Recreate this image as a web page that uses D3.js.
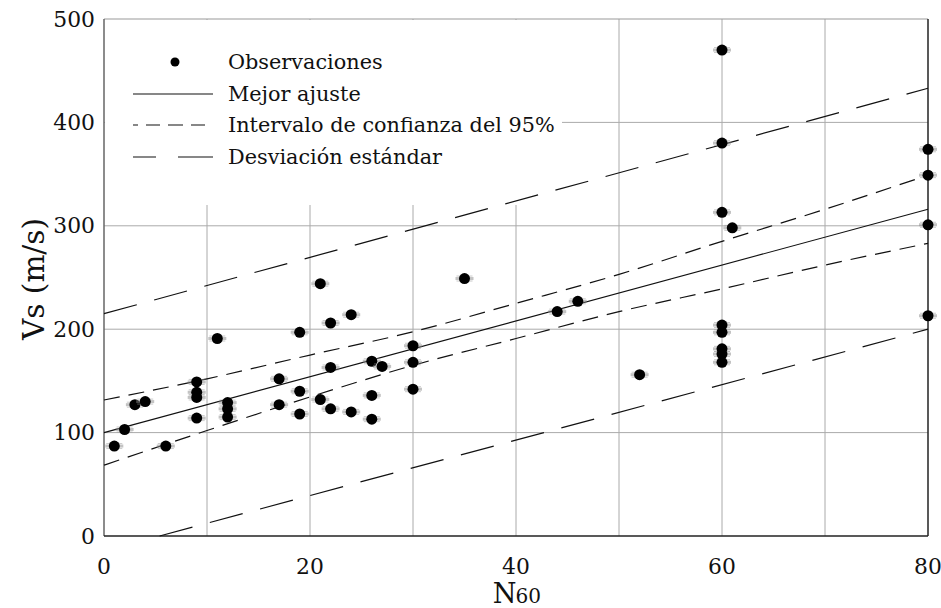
<!DOCTYPE html>
<html><head><meta charset="utf-8">
<script src="https://cdn.jsdelivr.net/npm/d3@7"></script>
<style>body{margin:0;background:#fff}svg{display:block}text{font-family:"DejaVu Serif","Liberation Serif",serif;fill:#111}</style>
</head><body><svg id="c" width="941" height="608"></svg>
<script>
// ---- data ----
const n60 = [1,2,3,4,6, 9,9,9,9, 11, 12,12,12, 17,17, 19,19,19, 21,21, 22,22,22, 24,24, 26,26,26, 27, 30,30,30, 35, 44, 46, 52, 60,60,60,60,60,60,60,60, 61, 80,80,80,80];
const vs  = [87,103,127,130,87, 149,139,134,114, 191, 129,123,115, 152,127, 197,140,118, 244,132, 206,163,123, 214,120, 169,136,113, 164, 184,168,142, 249, 217, 227, 156, 470,380,313,204,197,181,176,168, 298, 374,349,301,213];
const fitX = [0, 80];
const fitY = [100, 316];
const ciX = [0,10,20,30,40,50,60,70,80];
const ciUpper = [131.5,152,175,197.5,225,253,285,316,349];
const ciLower = [68.5,102,134.5,165,191,217,239,262,283];
const sdUpperX = [0, 80], sdUpperY = [215, 433];
const sdLowerX = [5.4, 80], sdLowerY = [0, 200];
const xTicks = [0,20,40,60,80];
const yTicks = [0,100,200,300,400,500];
const xGrid = [10,20,30,40,50,60,70];
const yGrid = [100,200,300,400];
const legendLabels = ["Observaciones","Mejor ajuste","Intervalo de confianza del 95%","Desviación estándar"];
const yTitle = "Vs (m/s)";

const svg = d3.select("#c");
const x = d3.scaleLinear().domain([0,80]).range([104,928]);
const y = d3.scaleLinear().domain([0,500]).range([536,19]);

// font sizes fitted so texts span the same widths as in the reference
function fitSize(txt, target){
  const p = svg.append("text").attr("font-size",20).text(txt);
  const s = 20 * target / p.node().getComputedTextLength();
  p.remove(); return s;
}
const fs = fitSize(legendLabels[2], 327);
const fsTitle = fitSize(yTitle, 122);

// gridlines
const g = svg.append("g").attr("stroke","#aaa").attr("stroke-width",1);
g.selectAll(".vg").data(xGrid).join("line").attr("x1",d=>x(d)).attr("x2",d=>x(d)).attr("y1",y(0)).attr("y2",y(500));
g.selectAll(".hg").data(yGrid).join("line").attr("x1",x(0)).attr("x2",x(80)).attr("y1",d=>y(d)).attr("y2",d=>y(d));

// legend background (hides grid)
svg.append("rect").attr("x",x(0)+1).attr("y",y(500)+1).attr("width",562-x(0)-1).attr("height",205-y(500)-1).attr("fill","#fff");

// frame
svg.append("line").attr("x1",x(0)).attr("x2",x(80)).attr("y1",y(500)).attr("y2",y(500)).attr("stroke","#999").attr("stroke-width",1);
svg.append("line").attr("x1",x(0)).attr("x2",x(0)).attr("y1",y(0)).attr("y2",y(500)).attr("stroke","#666").attr("stroke-width",1.5);
svg.append("line").attr("x1",x(80)).attr("x2",x(80)).attr("y1",y(0)).attr("y2",y(500)).attr("stroke","#222").attr("stroke-width",1.5);
svg.append("line").attr("x1",x(0)).attr("x2",x(80)).attr("y1",y(0)).attr("y2",y(0)).attr("stroke","#222").attr("stroke-width",1.5);

// lines
const line = d3.line().x(d=>x(d[0])).y(d=>y(d[1]));
const curve = d3.line().x(d=>x(d[0])).y(d=>y(d[1])).curve(d3.curveMonotoneX);
const L = svg.append("g").attr("fill","none").attr("stroke","#111").attr("stroke-width",1.2);
L.append("path").attr("d",line(fitX.map((v,i)=>[v,fitY[i]])));
L.append("path").attr("d",curve(ciX.map((v,i)=>[v,ciUpper[i]]))).attr("stroke-dasharray","16,9");
L.append("path").attr("d",curve(ciX.map((v,i)=>[v,ciLower[i]]))).attr("stroke-dasharray","16,9");
L.append("path").attr("d",line(sdUpperX.map((v,i)=>[v,sdUpperY[i]]))).attr("stroke-dasharray","34,18");
L.append("path").attr("d",line(sdLowerX.map((v,i)=>[v,sdLowerY[i]]))).attr("stroke-dasharray","34,18");

// points
const pts = n60.map((v,i)=>[v,vs[i]]);
const P = svg.append("g");
const pg = P.selectAll("g").data(pts).join("g").attr("transform",d=>`translate(${x(d[0])},${y(d[1])})`);
pg.append("line").attr("x1",-9).attr("x2",9).attr("y1",0).attr("y2",0).attr("stroke","#888").attr("stroke-width",3).attr("opacity",0.5);
pg.append("line").attr("x1",-8).attr("x2",8).attr("y1",-2.5).attr("y2",-2.5).attr("stroke","#999").attr("stroke-width",1).attr("opacity",0.5);
pg.append("line").attr("x1",-8).attr("x2",8).attr("y1",2.5).attr("y2",2.5).attr("stroke","#999").attr("stroke-width",1).attr("opacity",0.5);
pg.append("circle").attr("r",5.5).attr("fill","#000");

// tick labels
svg.append("g").selectAll("text").data(xTicks).join("text")
  .attr("x",d=>x(d)).attr("y",574).attr("text-anchor","middle").attr("font-size",fs*1.05).text(d=>d);
svg.append("g").selectAll("text").data(yTicks).join("text")
  .attr("x",95).attr("y",d=>y(d)+7.5).attr("text-anchor","end").attr("font-size",fs*1.05).text(d=>d);

// axis titles
const xt = svg.append("text").attr("x",517).attr("y",603).attr("text-anchor","middle").attr("font-size",fsTitle*0.92);
xt.append("tspan").text("N");
xt.append("tspan").attr("font-size",fsTitle*0.68).attr("dx",-1).text("60");
svg.append("text").attr("transform","translate(44,279) rotate(-90)").attr("text-anchor","middle").attr("font-size",fsTitle).text(yTitle);

// legend
const ly = [62,94,125,157];
const lg = svg.append("g");
lg.append("circle").attr("cx",175).attr("cy",ly[0]).attr("r",4.5).attr("fill","#000");
const lx1 = 133, lx2 = 213;
lg.append("line").attr("x1",lx1).attr("x2",lx2).attr("y1",ly[1]).attr("y2",ly[1]).attr("stroke","#111").attr("stroke-width",1.2);
lg.append("line").attr("x1",lx1).attr("x2",lx2).attr("y1",ly[2]).attr("y2",ly[2]).attr("stroke","#111").attr("stroke-width",1.2).attr("stroke-dasharray","5,8,14,8,15,8,14,8");
lg.append("line").attr("x1",lx1).attr("x2",lx2).attr("y1",ly[3]).attr("y2",ly[3]).attr("stroke","#111").attr("stroke-width",1.2).attr("stroke-dasharray","23,22,35");
lg.selectAll("text").data(legendLabels).join("text").attr("x",228).attr("y",(d,i)=>ly[i]+7).attr("font-size",fs).text(d=>d);
</script></body></html>
